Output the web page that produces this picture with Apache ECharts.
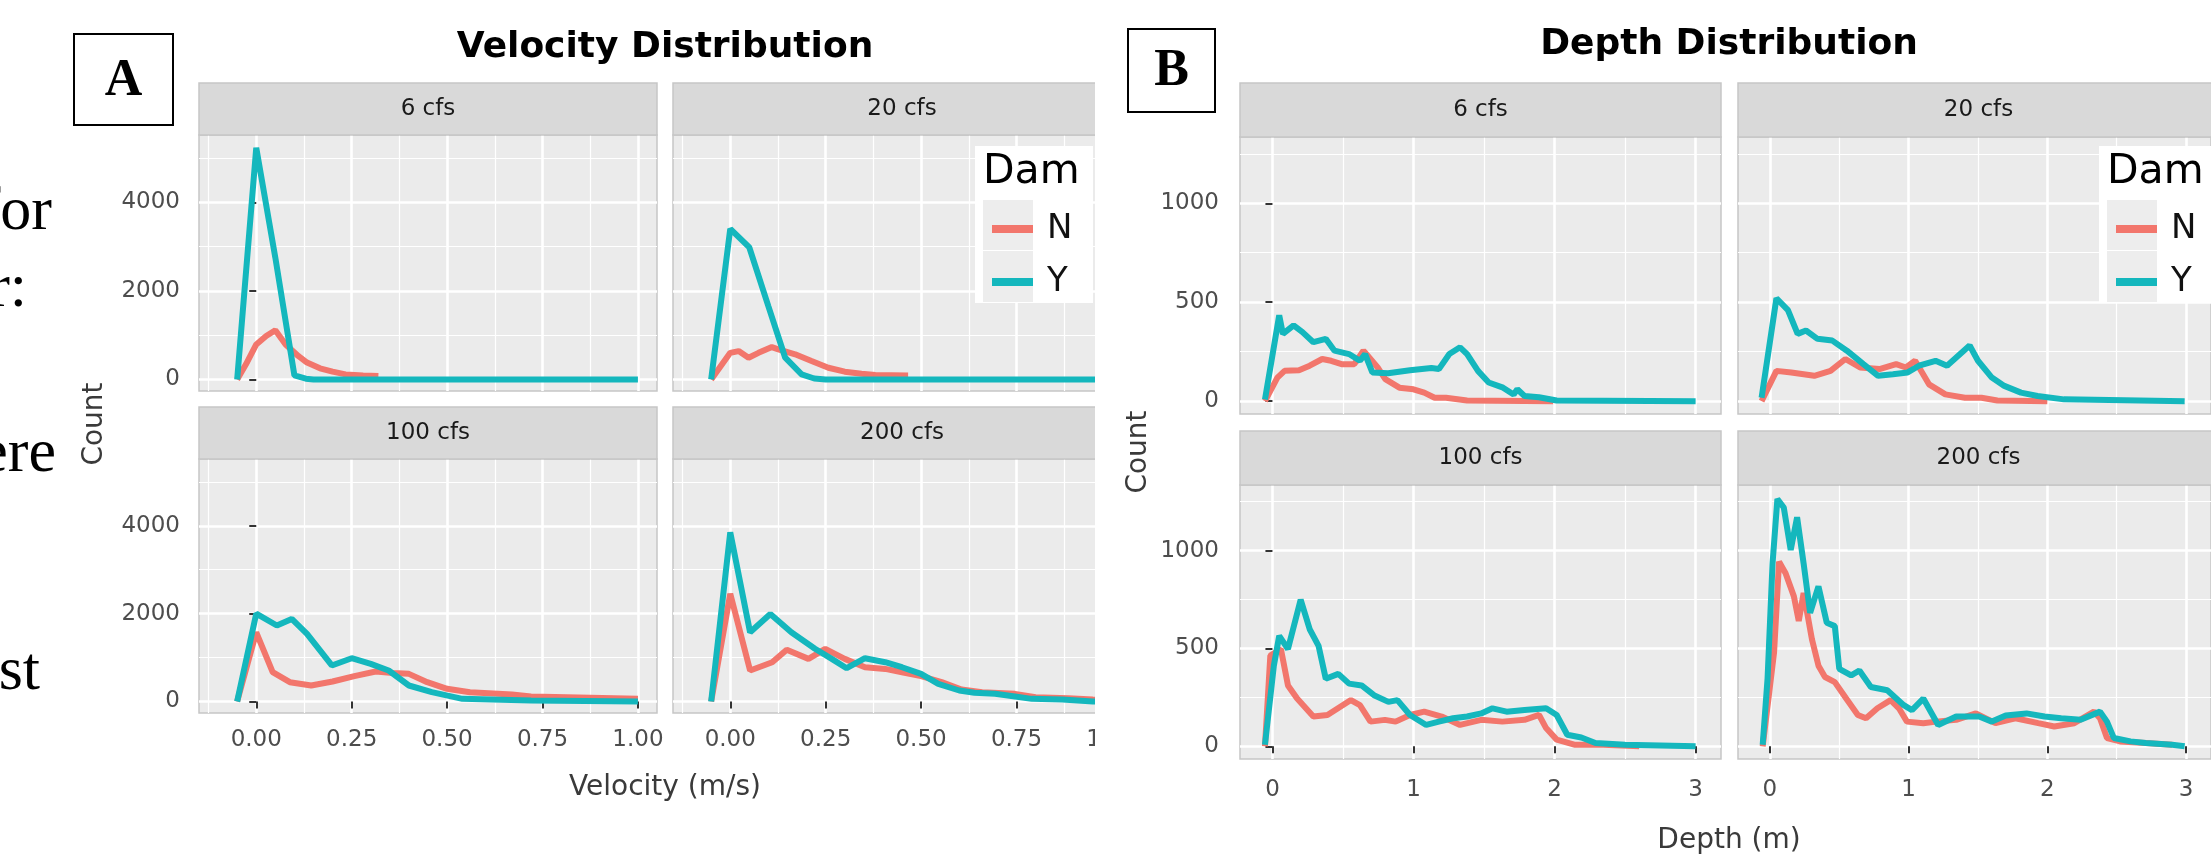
<!DOCTYPE html>
<html>
<head>
<meta charset="utf-8">
<title>Velocity and Depth Distribution</title>
<script src="https://cdn.jsdelivr.net/npm/echarts@6/dist/echarts.min.js"></script>
<style>
  html, body { margin: 0; padding: 0; background: #ffffff; }
  #chart { width: 2211px; height: 854px; }
</style>
</head>
<body>
<div id="chart"></div>
<script>
// facet labels and legend
const flows = ['6 cfs', '20 cfs', '100 cfs', '200 cfs']
const damLevels = ['N', 'Y']

// tick values (major / minor grid lines)
const velTicks = [0, 0.25, 0.5, 0.75, 1]
const velMinor = [-0.125, 0.125, 0.375, 0.625, 0.875]
const velCountTicks = [0, 2000, 4000]
const velCountMinor = [1000, 3000, 5000]
const depTicks = [0, 1, 2, 3]
const depMinor = [0.5, 1.5, 2.5]
const depCountTicks = [0, 500, 1000]
const depCountMinor = [250, 750, 1250]

// velocity (m/s) -> count
const vel6N = [[-0.05, 0], [-0.027, 340], [0, 790], [0.026, 980], [0.05, 1110], [0.077, 790], [0.11, 530], [0.133, 380], [0.167, 250], [0.2, 175], [0.234, 113], [0.28, 90], [0.32, 75]]
const vel6Y = [[-0.05, 0], [0, 5230], [0.05, 2750], [0.1, 90], [0.13, 15], [0.15, 0], [1.0, 0]]
const vel20N = [[-0.05, 0], [0, 600], [0.022, 640], [0.048, 490], [0.074, 600], [0.109, 730], [0.126, 680], [0.17, 566], [0.213, 415], [0.257, 264], [0.3, 174], [0.344, 128], [0.38, 98], [0.466, 90]]
const vel20Y = [[-0.05, 0], [0, 3400], [0.05, 2980], [0.1, 1650], [0.144, 490], [0.187, 113], [0.22, 20], [0.25, 0], [1.0, 0]]
const vel100N = [[-0.05, 0], [0, 1575], [0.043, 667], [0.088, 440], [0.144, 364], [0.2, 455], [0.257, 576], [0.313, 682], [0.358, 651], [0.4, 629], [0.448, 440], [0.5, 288], [0.56, 212], [0.67, 160], [0.72, 114], [1.0, 60]]
const vel100Y = [[-0.05, 0], [0, 2000], [0.054, 1730], [0.093, 1880], [0.133, 1540], [0.198, 820], [0.25, 985], [0.3, 856], [0.347, 705], [0.4, 364], [0.46, 212], [0.54, 60], [0.72, 23], [1.0, 0]]
const vel200N = [[-0.05, 0], [0, 2450], [0.052, 705], [0.11, 894], [0.148, 1180], [0.205, 970], [0.249, 1197], [0.3, 970], [0.353, 780], [0.406, 742], [0.45, 667], [0.5, 576], [0.554, 440], [0.606, 273], [0.66, 212], [0.746, 174], [0.8, 98], [0.886, 76], [0.95, 45], [1.0, 30]]
const vel200Y = [[-0.05, 0], [0, 3850], [0.052, 1575], [0.105, 1990], [0.16, 1575], [0.222, 1200], [0.266, 970], [0.305, 758], [0.353, 985], [0.406, 894], [0.45, 780], [0.5, 630], [0.545, 400], [0.6, 250], [0.64, 197], [0.694, 175], [0.746, 114], [0.79, 60], [0.87, 45], [0.95, 0], [1.0, 0]]

// depth (m) -> count
const dep6N = [[-0.053, 0], [0.035, 119], [0.086, 153], [0.188, 156], [0.264, 179], [0.353, 213], [0.416, 204], [0.49, 187], [0.58, 187], [0.645, 255], [0.695, 213], [0.746, 170], [0.8, 111], [0.9, 68], [1.0, 60], [1.076, 43], [1.15, 17], [1.23, 17], [1.38, 3], [1.99, 0]]
const dep6Y = [[-0.053, 8], [0.048, 434], [0.074, 340], [0.15, 383], [0.213, 349], [0.29, 298], [0.378, 315], [0.44, 255], [0.543, 238], [0.62, 204], [0.657, 238], [0.708, 145], [0.82, 141], [0.975, 156], [1.127, 167], [1.18, 162], [1.254, 238], [1.33, 272], [1.38, 238], [1.457, 153], [1.533, 94], [1.635, 68], [1.71, 34], [1.736, 60], [1.787, 26], [1.89, 20], [2.015, 3], [3.0, 0]]
const dep20N = [[-0.06, 0], [0.047, 153], [0.154, 145], [0.32, 128], [0.437, 153], [0.544, 213], [0.65, 170], [0.79, 162], [0.91, 187], [0.98, 170], [1.047, 204], [1.147, 85], [1.265, 34], [1.406, 17], [1.525, 17], [1.64, 3], [2.0, 0]]
const dep20Y = [[-0.06, 17], [0.047, 520], [0.13, 460], [0.2, 340], [0.26, 357], [0.343, 315], [0.45, 306], [0.555, 255], [0.674, 187], [0.78, 128], [0.887, 136], [0.993, 145], [1.075, 179], [1.194, 204], [1.277, 179], [1.44, 281], [1.5, 204], [1.6, 119], [1.69, 77], [1.81, 43], [1.93, 26], [2.12, 9], [2.99, 0]]
const dep100N = [[-0.053, 0], [-0.015, 463], [0.06, 497], [0.11, 311], [0.175, 244], [0.29, 152], [0.39, 160], [0.556, 236], [0.62, 210], [0.695, 126], [0.797, 135], [0.873, 126], [0.975, 160], [1.076, 177], [1.2, 152], [1.33, 109], [1.48, 135], [1.63, 126], [1.787, 135], [1.89, 160], [1.94, 93], [2.015, 34], [2.14, 8], [2.345, 8], [2.6, 0]]
const dep100Y = [[-0.053, 8], [0.01, 412], [0.048, 564], [0.11, 497], [0.2, 749], [0.264, 598], [0.327, 513], [0.378, 345], [0.467, 370], [0.543, 320], [0.632, 311], [0.72, 261], [0.822, 227], [0.886, 236], [0.975, 160], [1.09, 109], [1.18, 126], [1.28, 143], [1.38, 152], [1.48, 168], [1.56, 194], [1.66, 177], [1.787, 185], [1.94, 194], [2.015, 160], [2.09, 59], [2.19, 45], [2.29, 17], [2.5, 8], [3.0, 0]]
const dep200N = [[-0.052, 0], [0.03, 480], [0.066, 943], [0.113, 884], [0.173, 766], [0.208, 640], [0.243, 783], [0.303, 547], [0.35, 412], [0.397, 354], [0.468, 328], [0.55, 244], [0.634, 160], [0.693, 143], [0.775, 194], [0.87, 236], [0.93, 194], [0.988, 126], [1.106, 118], [1.2, 126], [1.343, 135], [1.485, 168], [1.626, 118], [1.77, 143], [1.934, 118], [2.05, 101], [2.194, 118], [2.336, 177], [2.38, 143], [2.43, 42], [2.525, 25], [2.71, 17], [2.9, 8]]
const dep200Y = [[-0.052, 8], [-0.017, 345], [0.019, 934], [0.054, 1263], [0.1, 1220], [0.15, 1003], [0.196, 1170], [0.243, 934], [0.29, 682], [0.35, 817], [0.41, 631], [0.468, 614], [0.5, 396], [0.586, 362], [0.645, 387], [0.728, 303], [0.846, 286], [0.965, 210], [1.024, 185], [1.106, 244], [1.213, 109], [1.343, 152], [1.508, 152], [1.6, 126], [1.7, 157], [1.85, 168], [1.98, 152], [2.1, 143], [2.24, 135], [2.38, 177], [2.43, 126], [2.48, 42], [2.6, 25], [2.71, 17], [2.9, 8], [2.99, 0]]

const velPanels = [[vel6N, vel6Y], [vel20N, vel20Y], [vel100N, vel100Y], [vel200N, vel200Y]]
const depPanels = [[dep6N, dep6Y], [dep20N, dep20Y], [dep100N, dep100Y], [dep200N, dep200Y]]

const RED = '#F2766C'
const TEAL = '#14B7BD'
const FONT = 'DejaVu Sans'
const TICK_COLOR = '#4D4D4D'

const grids = []
const xAxes = []
const yAxes = []
const series = []
const graphics = []

// one facet panel = grid + major axes (labels, white grid) + minor axes (thin grid)
function addPanel(box, cfg, data, showX, showY) {
  const gi = grids.length
  grids.push({
    left: box.left, top: box.top, width: box.width, height: box.height,
    show: true, backgroundColor: '#EBEBEB', borderColor: '#C6C6C6', borderWidth: 1.5
  })
  xAxes.push({
    type: 'value', gridIndex: gi, position: 'bottom',
    min: cfg.xMin, max: cfg.xMax,
    axisLine: { show: false },
    axisTick: { show: showX, length: 7, customValues: cfg.xTicks, lineStyle: { color: '#333', width: 2 } },
    axisLabel: {
      show: showX, customValues: cfg.xTicks, margin: cfg.xMargin,
      fontFamily: FONT, fontSize: 23, color: TICK_COLOR, formatter: cfg.xFmt
    },
    splitLine: { show: true, lineStyle: { color: '#FFFFFF', width: 2.6 } }
  })
  xAxes.push({
    type: 'value', gridIndex: gi, position: 'top',
    min: cfg.xMin, max: cfg.xMax,
    axisLine: { show: false },
    axisTick: { show: false, customValues: cfg.xMinor },
    axisLabel: { show: false, customValues: cfg.xMinor },
    splitLine: { show: true, lineStyle: { color: '#FFFFFF', width: 1.2 } }
  })
  yAxes.push({
    type: 'value', gridIndex: gi, position: 'left',
    min: cfg.yMin, max: cfg.yMax,
    axisLine: { show: false },
    axisTick: { show: showY, length: 7, customValues: cfg.yTicks, lineStyle: { color: '#333', width: 2 } },
    axisLabel: {
      show: showY, customValues: cfg.yTicks, margin: cfg.yMargin,
      fontFamily: FONT, fontSize: 23, color: TICK_COLOR, formatter: v => String(v)
    },
    splitLine: { show: true, lineStyle: { color: '#FFFFFF', width: 2.6 } }
  })
  yAxes.push({
    type: 'value', gridIndex: gi, position: 'right',
    min: cfg.yMin, max: cfg.yMax,
    axisLine: { show: false },
    axisTick: { show: false, customValues: cfg.yMinor },
    axisLabel: { show: false, customValues: cfg.yMinor },
    splitLine: { show: true, lineStyle: { color: '#FFFFFF', width: 1.2 } }
  })
  const colors = [RED, TEAL]
  data.forEach((d, k) => {
    series.push({
      name: damLevels[k],
      type: 'line',
      xAxisIndex: gi * 2,
      yAxisIndex: gi * 2,
      data: d,
      showSymbol: false,
      color: colors[k],
      lineStyle: { color: colors[k], width: 6 },
      z: 3 + k
    })
  })
}

function addStrip(x, y, w, h, text) {
  graphics.push({
    type: 'rect', shape: { x: x, y: y, width: w, height: h }, z: 4,
    style: { fill: '#D9D9D9', stroke: '#C6C6C6', lineWidth: 1.5 }
  })
  graphics.push({
    type: 'text', x: x + w / 2, y: y + h / 2, z: 5,
    style: { text: text, fill: '#1A1A1A', font: '23px "DejaVu Sans"', textAlign: 'center', textVerticalAlign: 'middle' }
  })
}

function addText(text, x, y, font, color, extra) {
  graphics.push(Object.assign({
    type: 'text', x: x, y: y, z: 8,
    style: { text: text, fill: color, font: font, textAlign: 'center', textVerticalAlign: 'middle' }
  }, extra || {}))
}

function addLegendBox(x) {
  graphics.push({ type: 'rect', shape: { x: x, y: 146, width: 118, height: 157 }, z: 6, style: { fill: '#FFFFFF' } })
  graphics.push({ type: 'rect', shape: { x: x + 8, y: 200, width: 50, height: 50 }, z: 7, style: { fill: '#EDEDED' } })
  graphics.push({ type: 'rect', shape: { x: x + 8, y: 251, width: 50, height: 51 }, z: 7, style: { fill: '#EDEDED' } })
  graphics.push({
    type: 'text', x: x + 8, y: 172, z: 8,
    style: { text: 'Dam', fill: '#000', font: '41px "DejaVu Sans"', textAlign: 'left', textVerticalAlign: 'middle' }
  })
}

// ---- panel A : velocity ----
const velCfg = {
  xMin: -0.15, xMax: 1.05, yMin: -262, yMax: 5520,
  xTicks: velTicks, xMinor: velMinor, yTicks: velCountTicks, yMinor: velCountMinor,
  xMargin: 16, yMargin: 19, xFmt: v => v.toFixed(2)
}
const velCols = [199, 673]
const velRows = [{ top: 135, h: 256, strip: 83 }, { top: 459, h: 254, strip: 407 }]
velPanels.forEach((d, i) => {
  const c = i % 2, r = Math.floor(i / 2)
  addPanel({ left: velCols[c], top: velRows[r].top, width: 458, height: velRows[r].h }, velCfg, d, r === 1, c === 0)
  addStrip(velCols[c], velRows[r].strip, 458, 52, flows[i])
})

// ---- panel B : depth ----
const depCfg = {
  xMin: -0.23, xMax: 3.18, yMin: -65, yMax: 1335,
  xTicks: depTicks, xMinor: depMinor, yTicks: depCountTicks, yMinor: depCountMinor,
  xMargin: 20, yMargin: 21, xFmt: v => String(v)
}
const depCols = [1240, 1738]
const depRows = [{ top: 137, h: 277, strip: 83 }, { top: 485, h: 274, strip: 431 }]
depPanels.forEach((d, i) => {
  const c = i % 2, r = Math.floor(i / 2)
  addPanel({ left: depCols[c], top: depRows[r].top, width: 481, height: depRows[r].h }, depCfg, d, r === 1, c === 0)
  addStrip(depCols[c], depRows[r].strip, 481, 54, flows[i])
})

// titles and axis names
addText('Velocity Distribution', 665, 48, 'bold 36px "DejaVu Sans"', '#000')
addText('Depth Distribution', 1729, 45, 'bold 36px "DejaVu Sans"', '#000')
addText('Velocity (m/s)', 665, 788, '28px "DejaVu Sans"', '#3A3A3A')
addText('Depth (m)', 1729, 841, '28px "DejaVu Sans"', '#3A3A3A')
addText('Count', 95, 424, '28px "DejaVu Sans"', '#3A3A3A', { rotation: Math.PI / 2 })

// legends (background + title), entries come from the legend component
addLegendBox(975)
addLegendBox(2099)

// the figure A is cropped on the right: white band between the two figures
graphics.push({ type: 'rect', shape: { x: 1095, y: 0, width: 55, height: 854 }, z: 50, style: { fill: '#FFFFFF' } })
addText('Count', 1139, 452, '28px "DejaVu Sans"', '#3A3A3A', { z: 60, rotation: Math.PI / 2 })

// A / B boxes
graphics.push({ type: 'rect', shape: { x: 74, y: 34, width: 99, height: 91 }, z: 60, style: { fill: '#FFFFFF', stroke: '#000', lineWidth: 2 } })
addText('A', 123.5, 82, 'bold 52px "Liberation Serif"', '#000', { z: 61 })
graphics.push({ type: 'rect', shape: { x: 1128, y: 29, width: 87, height: 83 }, z: 60, style: { fill: '#FFFFFF', stroke: '#000', lineWidth: 2 } })
addText('B', 1171.5, 72, 'bold 52px "Liberation Serif"', '#000', { z: 61 })

// fragments of the neighbouring text column, cut off at the left edge
const sideWords = [['for', 52, 213], ['r:', 27, 290], ['ere', 56, 455], ['st', 40, 673]]
sideWords.forEach(w => {
  graphics.push({
    type: 'text', x: w[1], y: w[2], z: 8,
    style: { text: w[0], fill: '#000', font: '62px "Liberation Serif"', textAlign: 'right', textVerticalAlign: 'middle' }
  })
})

const legendBase = {
  data: damLevels, orient: 'vertical', top: 207, itemWidth: 41, itemHeight: 8, itemGap: 19,
  icon: 'rect', selectedMode: false, z: 10,
  textStyle: { fontFamily: FONT, fontSize: 34, lineHeight: 34, color: '#111', padding: [0, 0, 0, 9] }
}

const myChart = echarts.init(document.getElementById('chart'))
myChart.setOption({
  animation: false,
  backgroundColor: '#FFFFFF',
  grid: grids,
  xAxis: xAxes,
  yAxis: yAxes,
  legend: [Object.assign({ left: 987 }, legendBase), Object.assign({ left: 2111 }, legendBase)],
  graphic: graphics,
  series: series
})
</script>
</body>
</html>
